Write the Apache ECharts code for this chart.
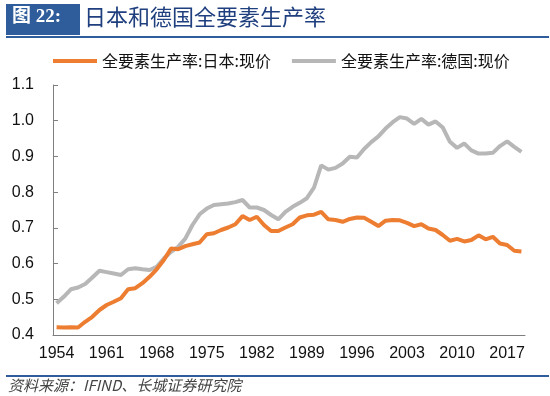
<!DOCTYPE html>
<html>
<head>
<meta charset="utf-8">
<script src="https://cdn.jsdelivr.net/npm/echarts@6/dist/echarts.min.js"></script>
<style>
  html, body { margin: 0; padding: 0; background: #fff; }
  #chart { width: 550px; height: 396px; }
</style>
</head>
<body>
<div id="chart"></div>
<script>
// 年份 1954-2019
const years = [];
for (let y = 1954; y <= 2019; y++) years.push(String(y));

// 全要素生产率:日本:现价
const japanTfp = [
  0.422, 0.421, 0.422, 0.421, 0.437, 0.451, 0.470, 0.484, 0.493, 0.503,
  0.528, 0.531, 0.545, 0.563, 0.584, 0.610, 0.642, 0.640, 0.649, 0.654,
  0.659, 0.682, 0.685, 0.694, 0.701, 0.710, 0.733, 0.722, 0.731, 0.708,
  0.691, 0.691, 0.701, 0.710, 0.729, 0.735, 0.737, 0.745, 0.724, 0.722,
  0.717, 0.725, 0.729, 0.728, 0.717, 0.705, 0.720, 0.722, 0.721, 0.714,
  0.705, 0.710, 0.698, 0.694, 0.680, 0.664, 0.669, 0.662, 0.666, 0.679,
  0.668, 0.675, 0.656, 0.652, 0.636, 0.634
];

// 全要素生产率:德国:现价
const germanyTfp = [
  0.489, 0.507, 0.528, 0.533, 0.543, 0.561, 0.580, 0.576, 0.572, 0.568,
  0.584, 0.587, 0.584, 0.582, 0.591, 0.614, 0.633, 0.647, 0.670, 0.708,
  0.738, 0.754, 0.764, 0.766, 0.768, 0.772, 0.778, 0.757, 0.757, 0.750,
  0.736, 0.724, 0.745, 0.759, 0.770, 0.783, 0.813, 0.875, 0.863, 0.868,
  0.880, 0.899, 0.897, 0.921, 0.940, 0.956, 0.978, 0.996, 1.010, 1.006,
  0.991, 1.005, 0.989, 0.998, 0.981, 0.941, 0.924, 0.936, 0.917, 0.908,
  0.908, 0.910, 0.929, 0.942, 0.927, 0.913
];

const seriesNames = ['全要素生产率:日本:现价', '全要素生产率:德国:现价'];
const colors = ['#ED7D31', '#B7B7B7'];

const chart = echarts.init(document.getElementById('chart'), null, { renderer: 'canvas' });

const option = {
  backgroundColor: '#ffffff',
  animation: false,
  color: colors,
  textStyle: { fontFamily: 'Arial, "Liberation Sans", "Noto Sans CJK SC", sans-serif' },
  graphic: [
    // 标题栏
    { type: 'rect', left: 6, top: 4, shape: { width: 74, height: 31 }, style: { fill: '#2F5C9B' } },
    {
      type: 'text', left: 12, top: 8,
      style: { text: '图 22:', fill: '#ffffff', font: 'bold 19px "Liberation Serif", "Noto Sans CJK SC", serif' }
    },
    {
      type: 'text', left: 84, top: 6,
      style: { text: '日本和德国全要素生产率', fill: '#1F3F7E', font: '22px "Noto Sans CJK SC", sans-serif' }
    },
    { type: 'rect', left: 6, top: 36, shape: { width: 543, height: 2 }, style: { fill: '#2F5C9B' } },
    // 底部来源
    { type: 'rect', left: 6, top: 375, shape: { width: 543, height: 2 }, style: { fill: '#2F5C9B' } },
    {
      type: 'text', left: 8, top: 378,
      style: { text: '资料来源：IFIND、长城证券研究院', fill: '#444444', font: 'italic 15px "Noto Sans CJK SC", serif' }
    }
  ],
  legend: {
    top: 48,
    left: 48,
    itemWidth: 44,
    itemHeight: 4,
    itemGap: 21,
    icon: 'rect',
    textStyle: { fontSize: 16, color: '#111', fontFamily: '"Noto Sans CJK SC", sans-serif' },
    data: seriesNames
  },
  grid: {
    left: 53,
    right: 25,
    top: 85,
    bottom: 61,
    containLabel: false
  },
  xAxis: {
    type: 'category',
    data: years,
    boundaryGap: true,
    axisLine: { lineStyle: { color: '#7F7F7F', width: 1 } },
    axisTick: { interval: 6, inside: true, length: 4, lineStyle: { color: '#7F7F7F' } },
    axisLabel: { interval: 6, fontSize: 16, color: '#111', margin: 11 },
    splitLine: { show: false }
  },
  yAxis: {
    type: 'value',
    min: 0.4,
    max: 1.1,
    interval: 0.1,
    axisLine: { show: true, lineStyle: { color: '#7F7F7F', width: 1 } },
    axisTick: { show: true, inside: true, length: 5, lineStyle: { color: '#7F7F7F' } },
    axisLabel: {
      fontSize: 16,
      color: '#111',
      margin: 19,
      formatter: (v) => v.toFixed(1)
    },
    splitLine: { show: false }
  },
  series: [
    {
      name: seriesNames[0],
      type: 'line',
      data: japanTfp,
      showSymbol: false,
      symbol: 'none',
      lineStyle: { width: 4, color: colors[0] },
      z: 3
    },
    {
      name: seriesNames[1],
      type: 'line',
      data: germanyTfp,
      showSymbol: false,
      symbol: 'none',
      lineStyle: { width: 4, color: colors[1] },
      z: 2
    }
  ]
};

chart.setOption(option);
</script>
</body>
</html>
